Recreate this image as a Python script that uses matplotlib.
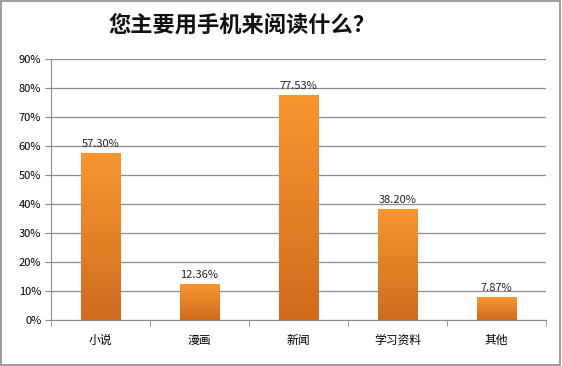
import numpy as np
import matplotlib.pyplot as plt
from matplotlib.patches import Rectangle
from matplotlib.colors import LinearSegmentedColormap

plt.rcParams['font.family'] = ['Noto Sans CJK SC', 'DejaVu Sans']

categories = ['小说', '漫画', '新闻', '学习资料', '其他']
values = [57.30, 12.36, 77.53, 38.20, 7.87]
labels = ['57.30%', '12.36%', '77.53%', '38.20%', '7.87%']
yticks = [0, 10, 20, 30, 40, 50, 60, 70, 80, 90]

fig = plt.figure(figsize=(5.62, 3.66), dpi=100)
ax = fig.add_axes([0.0907, 0.1257, 0.8808, 0.7131])

# gradient colour for bars (light orange top -> darker bottom)
grad = np.linspace(0, 1, 256).reshape(-1, 1)
cmap = LinearSegmentedColormap.from_list('bar', ['#d06c1e', '#f7962f'])

x = np.arange(len(categories))
w = 0.4
for xi, v, lab in zip(x, values, labels):
    ax.imshow(grad, extent=[xi - w / 2, xi + w / 2, 0, v], origin='lower',
              cmap=cmap, aspect='auto', zorder=3)
    ax.text(xi, v + 1.5, lab, ha='center', va='bottom', fontsize=8,
            color='#222222', zorder=4)

ax.set_xlim(-0.5, len(categories) - 0.5)
ax.set_ylim(0, 90)
ax.set_yticks(yticks)
ax.set_yticklabels([f'{t}%' for t in yticks], fontsize=8)
ax.set_xticks(x)
ax.set_xticklabels(categories, fontsize=8.5)
ax.tick_params(axis='x', length=0, pad=10)
ax.tick_params(axis='y', length=4, color='#888888', pad=3)
# ticks at category boundaries
ax.set_xticks(np.arange(-0.5, len(categories), 1), minor=True)
ax.tick_params(axis='x', which='minor', length=4, color='#888888', direction='out')
ax.yaxis.grid(True, color='#8c8c8c', linewidth=0.9, zorder=0)
ax.set_axisbelow(True)
for s in ['top', 'right']:
    ax.spines[s].set_visible(False)
for s in ['left', 'bottom']:
    ax.spines[s].set_color('#8c8c8c')

fig.text(0.43, 0.93, '您主要用手机来阅读什么？', ha='center', va='center',
         fontsize=16, fontweight='bold', color='#111111')

fig.patches.append(Rectangle((0.002, 0.003), 0.995, 0.994, transform=fig.transFigure,
                             fill=False, edgecolor='#8c8c8c', linewidth=1.2))

fig.savefig('out.png', dpi=100)
